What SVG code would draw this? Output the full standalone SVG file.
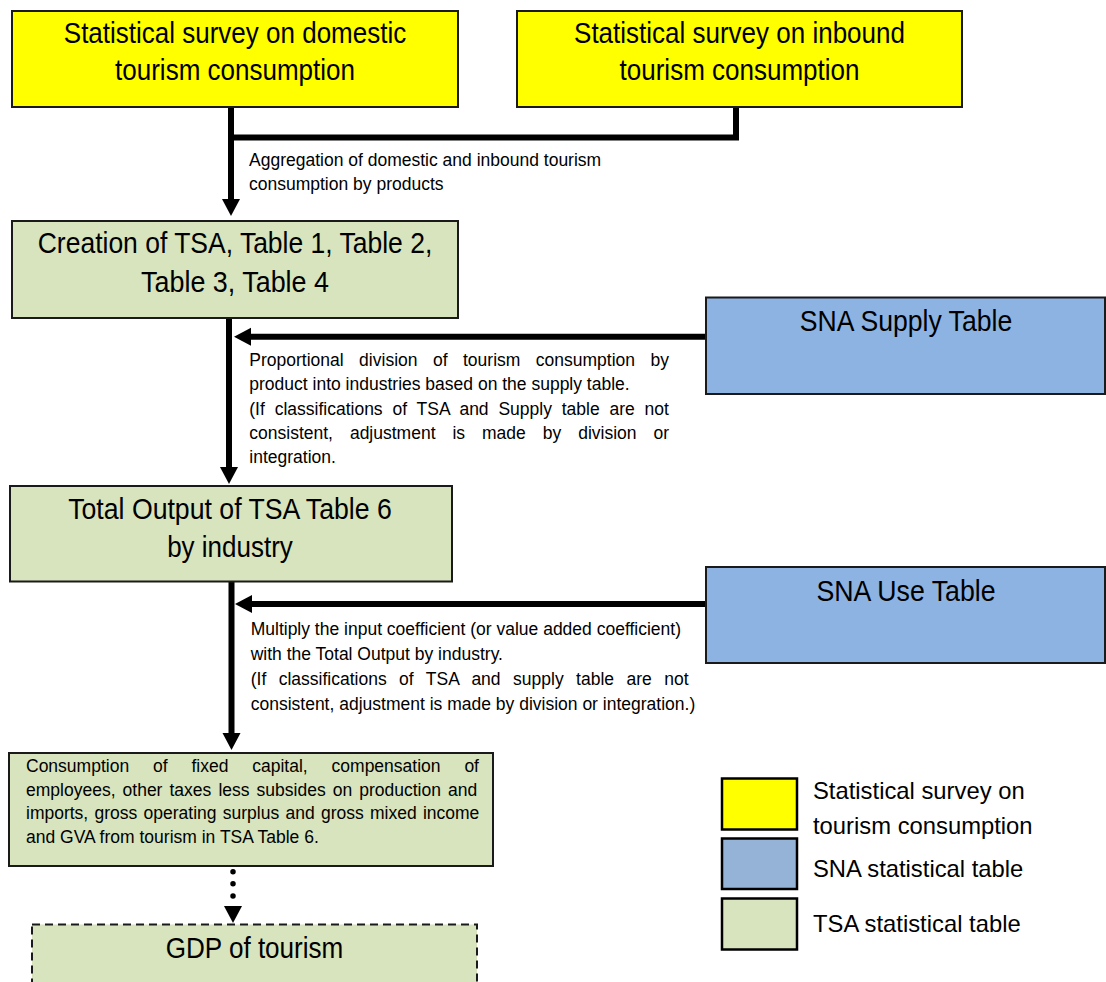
<svg xmlns="http://www.w3.org/2000/svg" xmlns:xlink="http://www.w3.org/1999/xlink" width="1106" height="982" viewBox="0 0 1106 982">
<style>
text { font-family: "Liberation Sans", Arial, sans-serif; fill: #000; }
.ttl { font-size: 30px; text-anchor: middle; }
.sm { font-size: 17.5px; }
.lg { font-size: 23.8px; }
.box { stroke: #1a1a1a; stroke-width: 2; }
.yel { fill: #FFFF00; }
.grn { fill: #D7E4BD; }
.blu { fill: #8DB3E2; }
.lgbox { stroke: #000; stroke-width: 2.5; }
.conn { fill: none; stroke: #000; stroke-width: 6; }
</style>
<defs>
<path id="ah" d="M-9,0 L9,0 L0,17 Z" fill="#000"/>
</defs>
<rect width="1106" height="982" fill="#fff"/>

<g id="connectors">
<path class="conn" d="M231,107 V201"/>
<path class="conn" d="M736,107 V137.5 H228" stroke-linejoin="miter"/>
<use xlink:href="#ah" transform="translate(231,199)"/>
<path class="conn" d="M229,318 V469"/>
<use xlink:href="#ah" transform="translate(229,467)"/>
<path class="conn" d="M706,336.7 H249"/>
<use xlink:href="#ah" transform="translate(251,336.7) rotate(90)"/>
<path class="conn" d="M231.5,581 V735"/>
<use xlink:href="#ah" transform="translate(231.5,733)"/>
<path class="conn" d="M706,604 H250"/>
<use xlink:href="#ah" transform="translate(252,604) rotate(90)"/>
<path d="M233,871.7 V896" fill="none" stroke="#000" stroke-width="5.5" stroke-linecap="round" stroke-dasharray="0 12.1"/>
<use xlink:href="#ah" transform="translate(233,906)"/>
</g>

<g id="label-aggregation">
<text class="sm" x="249" y="166">Aggregation of domestic and inbound tourism</text>
<text class="sm" x="249" y="190">consumption by products</text>
</g>

<g id="label-supply">
<text class="sm" x="249.3" y="366" word-spacing="10.6">Proportional division of tourism consumption by</text>
<text class="sm" x="249.3" y="390.3">product into industries based on the supply table.</text>
<text class="sm" x="249.3" y="414.6" word-spacing="4.95">(If classifications of TSA and Supply table are not</text>
<text class="sm" x="249.3" y="438.9" word-spacing="12.08">consistent, adjustment is made by division or</text>
<text class="sm" x="249.3" y="463.2">integration.</text>
</g>

<g id="label-use">
<text class="sm" x="250.7" y="635">Multiply the input coefficient (or value added coefficient)</text>
<text class="sm" x="250.7" y="660">with the Total Output by industry.</text>
<text class="sm" x="250.7" y="685" word-spacing="7.6">(If classifications of TSA and supply table are not</text>
<text class="sm" x="250.7" y="709.5">consistent, adjustment is made by division or integration.)</text>
</g>

<g id="node-domestic">
<rect class="box yel" x="12" y="11" width="446" height="96"/>
<text class="ttl" x="235" y="43.3" textLength="342.4" lengthAdjust="spacingAndGlyphs">Statistical survey on domestic</text>
<text class="ttl" x="235" y="80" textLength="239.9" lengthAdjust="spacingAndGlyphs">tourism consumption</text>
</g>

<g id="node-inbound">
<rect class="box yel" x="517" y="11" width="445" height="96"/>
<text class="ttl" x="739.5" y="43.3" textLength="330.9" lengthAdjust="spacingAndGlyphs">Statistical survey on inbound</text>
<text class="ttl" x="739.5" y="80" textLength="239.9" lengthAdjust="spacingAndGlyphs">tourism consumption</text>
</g>

<g id="node-creation">
<rect class="box grn" x="12" y="221" width="446" height="97"/>
<text class="ttl" x="235" y="253.3" textLength="394.5" lengthAdjust="spacingAndGlyphs">Creation of TSA, Table 1, Table 2,</text>
<text class="ttl" x="235" y="291.7" textLength="187.9" lengthAdjust="spacingAndGlyphs">Table 3, Table 4</text>
</g>

<g id="node-supply">
<rect class="box blu" x="706" y="297.5" width="399" height="96.5"/>
<text class="ttl" x="906" y="330.7" textLength="212.4" lengthAdjust="spacingAndGlyphs">SNA Supply Table</text>
</g>

<g id="node-total-output">
<rect class="box grn" x="10" y="486" width="442" height="95.5"/>
<text class="ttl" x="230" y="519" textLength="323.7" lengthAdjust="spacingAndGlyphs">Total Output of TSA Table 6</text>
<text class="ttl" x="230" y="557" textLength="125.7" lengthAdjust="spacingAndGlyphs">by industry</text>
</g>

<g id="node-use">
<rect class="box blu" x="706" y="567" width="399" height="96"/>
<text class="ttl" x="906" y="600.7" textLength="179.2" lengthAdjust="spacingAndGlyphs">SNA Use Table</text>
</g>

<g id="node-gva">
<rect class="box grn" x="9" y="753" width="484" height="113" stroke-width="2.5"/>
<text class="sm" x="26" y="771.7" word-spacing="19">Consumption of fixed capital, compensation of</text>
<text class="sm" x="26" y="795.5" word-spacing="2.2">employees, other taxes less subsides on production and</text>
<text class="sm" x="26" y="819.3" word-spacing="1.4">imports, gross operating surplus and gross mixed income</text>
<text class="sm" x="26" y="843.3">and GVA from tourism in TSA Table 6.</text>
</g>

<g id="node-gdp">
<rect class="grn" x="32" y="924.5" width="445" height="80" stroke="#1a1a1a" stroke-width="2" stroke-dasharray="8 5"/>
<text class="ttl" x="254.5" y="958.3" textLength="177.7" lengthAdjust="spacingAndGlyphs">GDP of tourism</text>
</g>

<g id="legend">
<rect class="lgbox yel" x="722" y="778.5" width="75" height="51"/>
<rect class="lgbox" x="722" y="838.5" width="75" height="50.5" fill="#95B3D7"/>
<rect class="lgbox grn" x="722" y="898.5" width="75" height="51"/>
<text class="lg" x="813" y="799.3">Statistical survey on</text>
<text class="lg" x="813" y="834">tourism consumption</text>
<text class="lg" x="813" y="876.7">SNA statistical table</text>
<text class="lg" x="813" y="931.7">TSA statistical table</text>
</g>
</svg>
